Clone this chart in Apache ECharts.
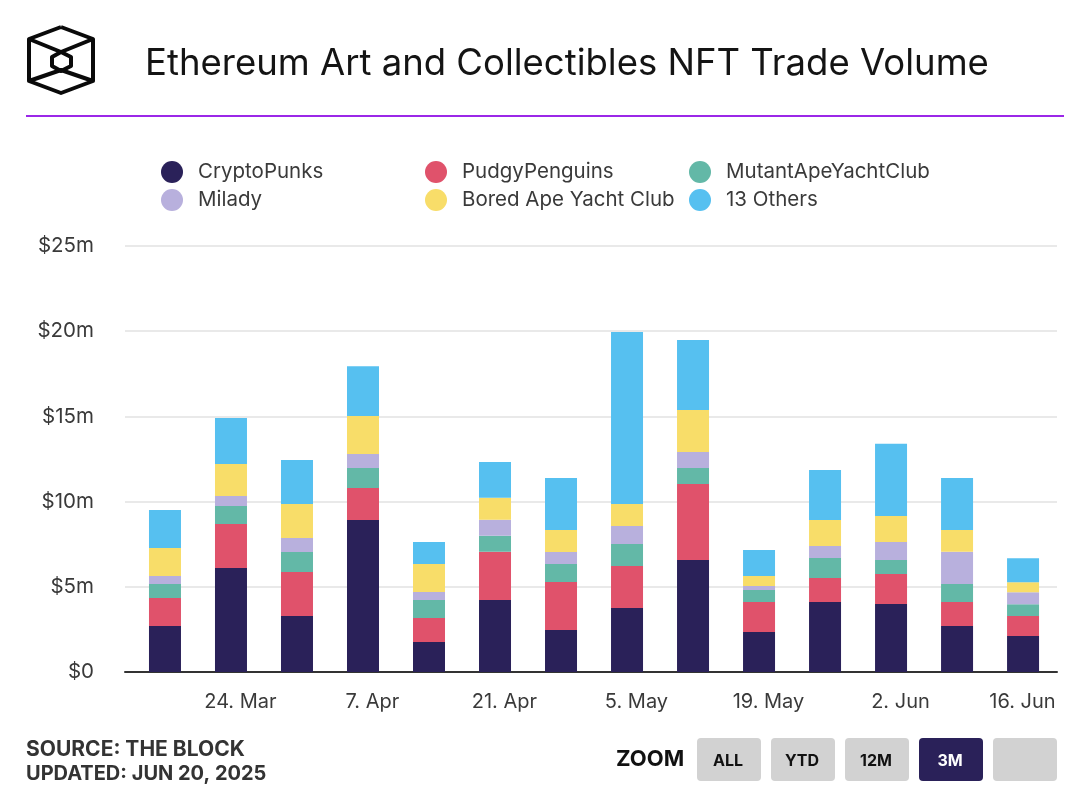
<!DOCTYPE html>
<html>
<head>
<meta charset="utf-8">
<title>Ethereum Art and Collectibles NFT Trade Volume</title>
<script src="https://cdn.jsdelivr.net/npm/echarts@6/dist/echarts.min.js"></script>
<style>
  html, body { margin: 0; padding: 0; background: #fff; }
  #main { width: 1088px; height: 798px; }
</style>
</head>
<body>
<div id="main"></div>
<script>
// weekly bars, values in $m
const weeks = ['2025-03-16', '2025-03-23', '2025-03-30', '2025-04-06', '2025-04-13', '2025-04-20', '2025-04-27',
  '2025-05-04', '2025-05-11', '2025-05-18', '2025-05-25', '2025-06-01', '2025-06-08', '2025-06-15'];
const cryptoPunks = [2.7, 6.1, 3.29, 8.92, 1.76, 4.23, 2.46, 3.76, 6.57, 2.35, 4.11, 3.99, 2.7, 2.11];
const pudgyPenguins = [1.64, 2.58, 2.58, 1.88, 1.41, 2.82, 2.82, 2.46, 4.46, 1.76, 1.41, 1.76, 1.41, 1.17];
const mutantApe = [0.82, 1.06, 1.17, 1.17, 1.06, 0.94, 1.06, 1.29, 0.94, 0.7, 1.17, 0.82, 1.06, 0.7];
const milady = [0.47, 0.59, 0.82, 0.82, 0.47, 0.94, 0.7, 1.06, 0.94, 0.23, 0.7, 1.06, 1.88, 0.7];
const boredApe = [1.64, 1.88, 2.0, 2.23, 1.64, 1.29, 1.29, 1.29, 2.46, 0.59, 1.53, 1.53, 1.29, 0.59];
const others = [2.23, 2.7, 2.58, 2.93, 1.29, 2.11, 3.05, 10.09, 4.11, 1.53, 2.93, 4.23, 3.05, 1.41];

const tickDates = ['2025-03-24', '2025-04-07', '2025-04-21', '2025-05-05', '2025-05-19', '2025-06-02', '2025-06-16'];
const zoomLabels = ['ALL', 'YTD', '12M', '3M', ''];

const FONT = 'Inter';
const MONTHS = ['Jan', 'Feb', 'Mar', 'Apr', 'May', 'Jun', 'Jul', 'Aug', 'Sep', 'Oct', 'Nov', 'Dec'];
const ts = s => new Date(s + 'T00:00:00').getTime();
const DAY = 86400000;

const seriesDefs = [
  { name: 'CryptoPunks', values: cryptoPunks, color: '#2a2159' },
  { name: 'PudgyPenguins', values: pudgyPenguins, color: '#e0526b' },
  { name: 'MutantApeYachtClub', values: mutantApe, color: '#63b8a7' },
  { name: 'Milady', values: milady, color: '#b8b0dd' },
  { name: 'Bored Ape Yacht Club', values: boredApe, color: '#f8dd69' },
  { name: '13 Others', values: others, color: '#56c0f0' }
];

// three columns of two, same as the page legend
function legendCol(left, names) {
  return {
    left: left, top: 156, orient: 'vertical', icon: 'circle',
    itemWidth: 22, itemHeight: 22, itemGap: 6,
    selectedMode: false,
    data: names,
    textStyle: { fontFamily: FONT, fontSize: 20.5, color: '#3a3a3a', padding: [0, 0, 0, 10] }
  };
}

// zoom buttons + logo are page chrome
const buttons = zoomLabels.map((label, i) => ({
  type: 'group', left: 697 + i * 74, top: 738,
  children: [
    { type: 'rect', shape: { x: 0, y: 0, width: 64, height: 43, r: 4 },
      style: { fill: label === '3M' ? '#2a2159' : '#d2d2d2' } },
    { type: 'text', x: 31, y: 23,
      style: { text: label, fill: label === '3M' ? '#fff' : '#111', font: '700 16px ' + FONT, align: 'center', verticalAlign: 'middle' } }
  ]
}));

const logoLines = [
  [[61, 27], [93, 39], [93, 81], [61, 93], [29, 81], [29, 39], [61, 27]],
  [[61, 52], [71, 57], [71, 66], [61, 71], [52, 66], [52, 57], [61, 52]],
  [[29, 39], [61, 52], [93, 39]],
  [[29, 81], [61, 70], [93, 81]]
].map(points => ({
  type: 'polyline', shape: { points: points },
  style: { stroke: '#0a0a0a', lineWidth: 4, fill: null, lineJoin: 'round' }
}));

const myChart = echarts.init(document.getElementById('main'));

const option = {
  animation: false,
  backgroundColor: '#fff',
  title: {
    text: 'Ethereum Art and Collectibles NFT Trade Volume',
    left: 140, top: 41,
    textStyle: { fontFamily: FONT, fontSize: 36.5, fontWeight: 400, color: '#141414' }
  },
  legend: [
    legendCol(156, ['CryptoPunks', 'Milady']),
    legendCol(420, ['PudgyPenguins', 'Bored Ape Yacht Club']),
    legendCol(684, ['MutantApeYachtClub', '13 Others'])
  ],
  grid: { left: 125, right: 31, top: 246, bottom: 126 },
  xAxis: {
    // plain numeric axis over timestamps, custom ticks crash on type time
    type: 'value',
    min: ts(weeks[0]) - 4.24 * DAY,
    max: ts(weeks[weeks.length - 1]) + 3.6 * DAY,
    axisLine: { onZero: false, lineStyle: { color: '#333', width: 2 } },
    axisTick: { show: false },
    splitLine: { show: false },
    axisLabel: {
      customValues: tickDates.map(ts),
      margin: 20,
      hideOverlap: false,
      fontFamily: FONT, fontSize: 20, color: '#3a3a3a',
      // last label gets pushed back inside the plot
      formatter: function (v) {
        const d = new Date(v);
        const text = d.getDate() + '. ' + MONTHS[d.getMonth()];
        return v === ts(tickDates[tickDates.length - 1]) ? '{last|' + text + '}' : text;
      },
      rich: { last: { fontFamily: FONT, fontSize: 20, color: '#3a3a3a', padding: [0, 20, 0, 0] } }
    }
  },
  yAxis: {
    type: 'value', min: 0, max: 25, interval: 5,
    axisLine: { show: false },
    axisTick: { show: false },
    splitLine: { lineStyle: { color: '#e9e9e9', width: 2 } },
    axisLabel: {
      margin: 31,
      padding: [4, 0, 0, 0],
      fontFamily: FONT, fontSize: 20.5, color: '#3a3a3a',
      formatter: v => '$' + v + (v === 0 ? '' : 'm')
    }
  },
  series: seriesDefs.map(s => ({
    name: s.name,
    type: 'bar',
    stack: 'volume',
    barWidth: 32,
    // value first: echarts stacks on the first numeric column, and x is numeric here
    encode: { x: 1, y: 0 },
    itemStyle: { color: s.color },
    data: s.values.map((v, i) => [v, ts(weeks[i])])
  })),
  graphic: [
    ...logoLines,
    { type: 'rect', shape: { x: 26, y: 115, width: 1038, height: 2 }, style: { fill: '#9b27e8' } },
    { type: 'text', left: 26, top: 739, style: { text: 'SOURCE: THE BLOCK', fill: '#333', font: '700 21px ' + FONT } },
    { type: 'text', left: 26, top: 764, style: { text: 'UPDATED: JUN 20, 2025', fill: '#333', font: '700 20px ' + FONT } },
    { type: 'text', left: 616, top: 748, style: { text: 'ZOOM', fill: '#111', font: '700 22px ' + FONT } },
    ...buttons
  ]
};

myChart.setOption(option);
</script>
</body>
</html>
